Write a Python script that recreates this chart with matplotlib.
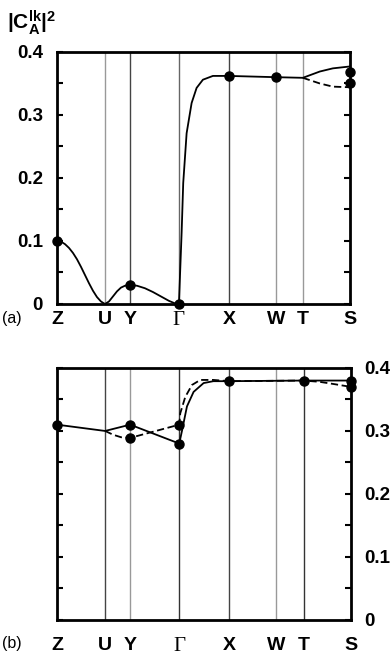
import numpy as np
import matplotlib.pyplot as plt

plt.rcParams['font.family'] = ['Liberation Sans', 'DejaVu Sans']
plt.rcParams['mathtext.fontset'] = 'custom'
plt.rcParams['mathtext.rm'] = 'Liberation Sans:bold'
plt.rcParams['mathtext.it'] = 'Liberation Sans:bold'
plt.rcParams['mathtext.bf'] = 'Liberation Sans:bold'

# high-symmetry points along the path (arbitrary k units)
k_points = [0, 48, 73, 122, 172, 219, 246, 293]
k_labels = ['Z', 'U', 'Y', 'Γ', 'X', 'W', 'T', 'S']

# panel (a)
a_solid_k = [0, 4, 8, 12, 16, 20, 24, 28, 32, 36, 40, 44, 48, 52, 56, 60, 64, 68, 73, 80, 88, 96,
             104, 112, 118, 122,
             124.7, 126.3, 129.7, 134.7, 139.7, 146, 156, 172, 219, 246, 263, 276, 293]
a_solid_v = [0.100, 0.099, 0.095, 0.089, 0.081, 0.071, 0.059, 0.046, 0.033, 0.021, 0.011, 0.004,
             0.000, 0.004, 0.012, 0.020, 0.026, 0.029, 0.030, 0.029, 0.025, 0.019, 0.012, 0.005,
             0.001, 0.000,
             0.113, 0.192, 0.271, 0.319, 0.343, 0.356, 0.362, 0.362, 0.360, 0.359, 0.369, 0.374, 0.377]
a_dash_k = [246, 263, 276, 293]
a_dash_v = [0.359, 0.350, 0.345, 0.344]
a_dot_k = [0, 73, 122, 172, 219, 293, 293]
a_dot_v = [0.100, 0.030, 0.000, 0.362, 0.360, 0.369, 0.350]

# panel (b)
b_solid_k = [0, 48, 73, 122, 124.7, 129.7, 136.3, 146.3, 156, 172, 246, 293]
b_solid_v = [0.310, 0.300, 0.310, 0.280, 0.300, 0.339, 0.362, 0.376, 0.379, 0.379, 0.380, 0.380]
b_dash_k = [48, 56, 64, 73, 122, 123, 128, 134.7, 143, 156, 172, 246, 262, 278, 293]
b_dash_v = [0.300, 0.294, 0.290, 0.289, 0.310, 0.328, 0.354, 0.373, 0.381, 0.381, 0.379,
            0.380, 0.378, 0.374, 0.370]
b_dot_k = [0, 73, 73, 122, 122, 172, 246, 293, 293]
b_dot_v = [0.310, 0.310, 0.289, 0.310, 0.280, 0.379, 0.380, 0.380, 0.370]

a_vline_colors = ['#999999', '#444444', '#666666', '#444444', '#999999', '#999999']
b_vline_colors = ['#444444', '#999999', '#333333', '#444444', '#999999', '#333333']

fig = plt.figure(figsize=(3.92, 6.58), dpi=100)
ax_a = fig.add_axes([0.1454, 0.538, 0.747, 0.383])
ax_b = fig.add_axes([0.1454, 0.0578, 0.749, 0.383])


def setup(ax, vcolors, right_labels, xpad):
    for kk, c in zip(k_points[1:-1], vcolors):
        ax.axvline(kk, color=c, lw=1.0, zorder=1)
    ax.set_xlim(k_points[0], k_points[-1])
    ax.set_ylim(0, 0.4)
    ax.set_yticks([0, 0.1, 0.2, 0.3, 0.4])
    ax.set_yticklabels(['0', '0.1', '0.2', '0.3', '0.4'], fontweight='bold', fontsize=13.5)
    ax.set_yticks(np.arange(0, 0.41, 0.05), minor=True)
    ax.tick_params(axis='y', which='both', direction='in', length=4, width=1.5, pad=10,
                   left=True, right=True, labelleft=not right_labels, labelright=right_labels)
    ax.set_xticks(k_points)
    ax.set_xticklabels(k_labels, fontweight='bold', fontsize=14)
    ax.tick_params(axis='x', length=0, pad=xpad)
    for lab in ax.get_xticklabels():
        if lab.get_text() == 'Γ':
            lab.set_fontfamily('Liberation Serif')
            lab.set_fontweight('normal')
            lab.set_fontsize(15)
    for s in ax.spines.values():
        s.set_linewidth(2)


setup(ax_a, a_vline_colors, False, 5)
ax_a.plot(a_solid_k, a_solid_v, color='black', lw=1.3, zorder=3)
ax_a.plot(a_dash_k, a_dash_v, color='black', lw=1.3, ls=(0, (4, 2)), zorder=3)
ax_a.plot(a_dot_k, a_dot_v, 'o', color='black', ms=6.5, clip_on=False, zorder=4)

setup(ax_b, b_vline_colors, True, 12)
ax_b.plot(b_solid_k, b_solid_v, color='black', lw=1.3, zorder=3)
ax_b.plot(b_dash_k, b_dash_v, color='black', lw=1.3, ls=(0, (4, 2)), zorder=3)
ax_b.plot(b_dot_k, b_dot_v, 'o', color='black', ms=6.5, clip_on=False, zorder=4)

fig.text(0.018, 0.966, r'$|\mathrm{C}_\mathrm{A}^{\mathrm{lk}}|^2$', fontsize=15, va='center')
fig.text(0.005, 0.516, '(a)', fontsize=11.5, va='center')
fig.text(0.005, 0.022, '(b)', fontsize=11.5, va='center')

fig.savefig('out.png', dpi=100)
